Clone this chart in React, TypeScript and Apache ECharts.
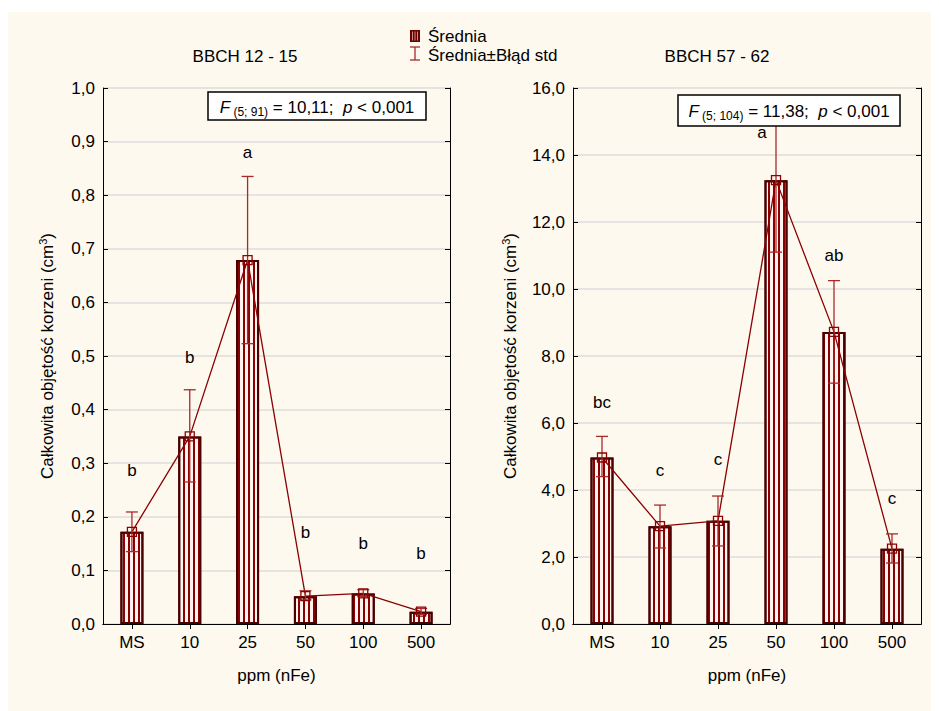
import React, { useEffect, useRef } from "react";
import * as echarts from "echarts";

const categories = ["MS", "10", "25", "50", "100", "500"];

// BBCH 12 - 15
const meanL = [0.172, 0.35, 0.679, 0.052, 0.057, 0.023];
const lowL = [0.135, 0.265, 0.523, 0.045, 0.051, 0.018];
const highL = [0.209, 0.437, 0.835, 0.062, 0.064, 0.029];
const lettersL = ["b", "b", "a", "b", "b", "b"];
const letterPosL = [0.287, 0.498, 0.879, 0.17, 0.151, 0.132];

// BBCH 57 - 62
const meanR = [4.97, 2.92, 3.08, 13.25, 8.72, 2.25];
const lowR = [4.4, 2.27, 2.33, 11.1, 7.19, 1.82];
const highR = [5.6, 3.55, 3.82, 15.4, 10.25, 2.69];
const lettersR = ["bc", "c", "c", "a", "ab", "c"];
const letterPosR = [6.6, 4.57, 4.9, 14.66, 11.0, 3.76];

const titles = ["BBCH 12 - 15", "BBCH 57 - 62"];
const yMax = [1.0, 16];
const yInterval = [0.1, 2];
const stats = [
  { df: "(5; 91)", F: "10,11", p: "0,001" },
  { df: "(5; 104)", F: "11,38", p: "0,001" },
];
const yName = "Całkowita objętość korzeni (cm{sup|3})";
const xName = "ppm (nFe)";
const legendItems = ["Średnia", "Średnia±Błąd std"];

const FONT = "'Liberation Sans', Arial, sans-serif";
const FS = 17;
const BAR_DARK = "#4a0000";
const LINE_RED = "#8b0000";
const ERR_RED = "#a82a2a";

export default function App() {
  const ref = useRef<HTMLDivElement>(null);
  useEffect(() => {
    if (!ref.current) return;
    const chart = echarts.init(ref.current, undefined, { renderer: "svg" });
    const grids = [
      { left: 95, top: 76, width: 347, height: 536 },
      { left: 565, top: 76, width: 348, height: 536 },
    ];
    const xAxis: any[] = [];
    const yAxis: any[] = [];
    const series: any[] = [];
    const datasets = [
      { mean: meanL, low: lowL, high: highL, letters: lettersL, pos: letterPosL },
      { mean: meanR, low: lowR, high: highR, letters: lettersR, pos: letterPosR },
    ];
    grids.forEach((g, gi) => {
      xAxis.push({
        type: "category",
        gridIndex: gi,
        data: categories,
        position: "bottom",
        name: xName,
        nameLocation: "middle",
        nameGap: 43,
        nameTextStyle: { fontFamily: FONT, fontSize: FS, color: "#000" },
        axisLine: { lineStyle: { color: "#000", width: 1 } },
        axisTick: { show: false },
        axisLabel: { fontFamily: FONT, fontSize: FS, color: "#000", margin: 10 },
        splitLine: { show: false },
      });
      xAxis.push({
        type: "category",
        gridIndex: gi,
        data: categories,
        position: "top",
        axisLine: { lineStyle: { color: "#000", width: 1 } },
        axisTick: { show: true, inside: true, length: 5, alignWithLabel: true, lineStyle: { color: "#000" } },
        axisLabel: { show: false },
        splitLine: { show: false },
      });
      const fmt = (v: number) => v.toFixed(1).replace(".", ",");
      yAxis.push({
        type: "value",
        gridIndex: gi,
        min: 0,
        max: yMax[gi],
        interval: yInterval[gi],
        position: "left",
        name: yName,
        nameLocation: "middle",
        nameGap: gi === 0 ? 46 : 53,
        nameTextStyle: {
          fontFamily: FONT,
          fontSize: FS,
          color: "#000",
          lineHeight: 20,
          rich: { sup: { fontFamily: FONT, fontSize: 11, lineHeight: 11, verticalAlign: "top", color: "#000" } },
        },
        axisLine: { show: true, lineStyle: { color: "#000", width: 1 } },
        axisTick: { show: true, inside: true, length: 5, lineStyle: { color: "#000" } },
        axisLabel: { fontFamily: FONT, fontSize: FS, color: "#000", margin: 8, formatter: fmt },
        splitLine: { show: true, lineStyle: { color: "#dcdcdc", width: 1.5 } },
      });
      yAxis.push({
        type: "value",
        gridIndex: gi,
        min: 0,
        max: yMax[gi],
        interval: yInterval[gi],
        position: "right",
        axisLine: { show: true, lineStyle: { color: "#000", width: 1 } },
        axisTick: { show: true, inside: true, length: 5, lineStyle: { color: "#000" } },
        axisLabel: { show: false },
        splitLine: { show: false },
      });
      const d = datasets[gi];
      series.push({
        type: "bar",
        xAxisIndex: 2 * gi,
        yAxisIndex: 2 * gi,
        data: d.mean,
        barWidth: 23,
        itemStyle: {
          color: "#fff4f0",
          borderColor: BAR_DARK,
          borderWidth: 2,
          decal: {
            symbol: "rect",
            symbolSize: 1,
            dashArrayX: [1.5, 2.5],
            dashArrayY: [10, 0],
            rotation: 0,
            color: "#8b0000",
          },
        },
        z: 2,
      });
      series.push({
        type: "line",
        xAxisIndex: 2 * gi,
        yAxisIndex: 2 * gi,
        data: d.mean,
        symbol: "none",
        lineStyle: { color: LINE_RED, width: 1.3 },
        z: 3,
      });
      series.push({
        type: "custom",
        xAxisIndex: 2 * gi,
        yAxisIndex: 2 * gi,
        data: d.mean.map((v, i) => [i, d.low[i], d.high[i], v]),
        encode: { x: 0, y: [1, 2, 3] },
        z: 4,
        renderItem: (params: any, api: any) => {
          const i = api.value(0);
          const lo = api.coord([i, api.value(1)]);
          const hi = api.coord([i, api.value(2)]);
          const m = api.coord([i, api.value(3)]);
          const cap = 6;
          const st = { stroke: ERR_RED, lineWidth: 1.3 };
          return {
            type: "group",
            children: [
              { type: "line", shape: { x1: lo[0], y1: lo[1], x2: hi[0], y2: hi[1] }, style: st },
              { type: "line", shape: { x1: hi[0] - cap, y1: hi[1], x2: hi[0] + cap, y2: hi[1] }, style: st },
              { type: "line", shape: { x1: lo[0] - cap, y1: lo[1], x2: lo[0] + cap, y2: lo[1] }, style: st },
              {
                type: "rect",
                shape: { x: m[0] - 4.5, y: m[1] - 4.5, width: 9, height: 9 },
                style: { stroke: LINE_RED, fill: "rgba(0,0,0,0)", lineWidth: 1.3 },
              },
            ],
          };
        },
      });
      series.push({
        type: "custom",
        xAxisIndex: 2 * gi,
        yAxisIndex: 2 * gi,
        data: d.pos.map((v, i) => [i, v]),
        encode: { x: 0, y: 1 },
        z: 5,
        renderItem: (params: any, api: any) => {
          const i = api.value(0);
          const p = api.coord([i, api.value(1)]);
          const txt = d.letters[params.dataIndex];
          const dx = gi === 1 && txt === "a" ? -14 : 0;
          return {
            type: "text",
            x: p[0] + dx,
            y: p[1],
            style: { text: txt, fontFamily: FONT, fontSize: FS, fill: "#000", align: "center", verticalAlign: "middle" },
          };
        },
      });
    });

    const statBox = (x: number, y: number, w: number, h: number, s: any) => [
      {
        type: "rect",
        z: 100,
        shape: { x, y, width: w, height: h },
        style: { fill: "#fff", stroke: "#000", lineWidth: 1.5 },
      },
      {
        type: "text",
        z: 101,
        x: x + w / 2,
        y: y + h / 2 + 1,
        style: {
          text: `{i|F}{s| ${s.df}}{n| = ${s.F};  }{i|p}{n| < ${s.p}}`,
          align: "center",
          verticalAlign: "middle",
          rich: {
            i: { fontFamily: FONT, fontSize: 17, fontStyle: "italic", fill: "#000", lineHeight: 21 },
            n: { fontFamily: FONT, fontSize: 17, fill: "#000", lineHeight: 21 },
            s: { fontFamily: FONT, fontSize: 12, fill: "#000", lineHeight: 14, verticalAlign: "bottom" },
          },
        },
      },
    ];

    const graphic: any[] = [
      ...statBox(200, 80, 218, 28, stats[0]),
      ...statBox(670, 83, 222, 31, stats[1]),
      {
        type: "text",
        x: 237,
        y: 44,
        style: { text: titles[0], fontFamily: FONT, fontSize: FS, fill: "#000", align: "center", verticalAlign: "middle" },
      },
      {
        type: "text",
        x: 709,
        y: 44,
        style: { text: titles[1], fontFamily: FONT, fontSize: FS, fill: "#000", align: "center", verticalAlign: "middle" },
      },
      // legend icons
      { type: "rect", shape: { x: 402, y: 18, width: 10, height: 12 }, style: { fill: "#6a0000" } },
      ...[404.5, 407, 409.5].map((lx) => ({
        type: "line",
        shape: { x1: lx, y1: 19.5, x2: lx, y2: 28.5 },
        style: { stroke: "#e8b0a8", lineWidth: 0.8 },
      })),
      { type: "line", shape: { x1: 407, y1: 35, x2: 407, y2: 48 }, style: { stroke: ERR_RED, lineWidth: 1.3 } },
      { type: "line", shape: { x1: 402, y1: 35, x2: 412, y2: 35 }, style: { stroke: ERR_RED, lineWidth: 1.3 } },
      { type: "line", shape: { x1: 402, y1: 48, x2: 412, y2: 48 }, style: { stroke: ERR_RED, lineWidth: 1.3 } },
      {
        type: "text",
        x: 420,
        y: 24,
        style: { text: legendItems[0], fontFamily: FONT, fontSize: FS, fill: "#000", verticalAlign: "middle" },
      },
      {
        type: "text",
        x: 420,
        y: 43,
        style: { text: legendItems[1], fontFamily: FONT, fontSize: FS, fill: "#000", verticalAlign: "middle" },
      },
    ];

    chart.setOption({
      animation: false,
      backgroundColor: "#fdf9ef",
      grid: grids.map((g) => ({ ...g, containLabel: false })),
      xAxis,
      yAxis,
      series,
      graphic,
    });
    return () => chart.dispose();
  }, []);
  return (
    <div style={{ paddingTop: 4 }}>
      <div ref={ref} style={{ width: 931, height: 699 }} />
    </div>
  );
}
